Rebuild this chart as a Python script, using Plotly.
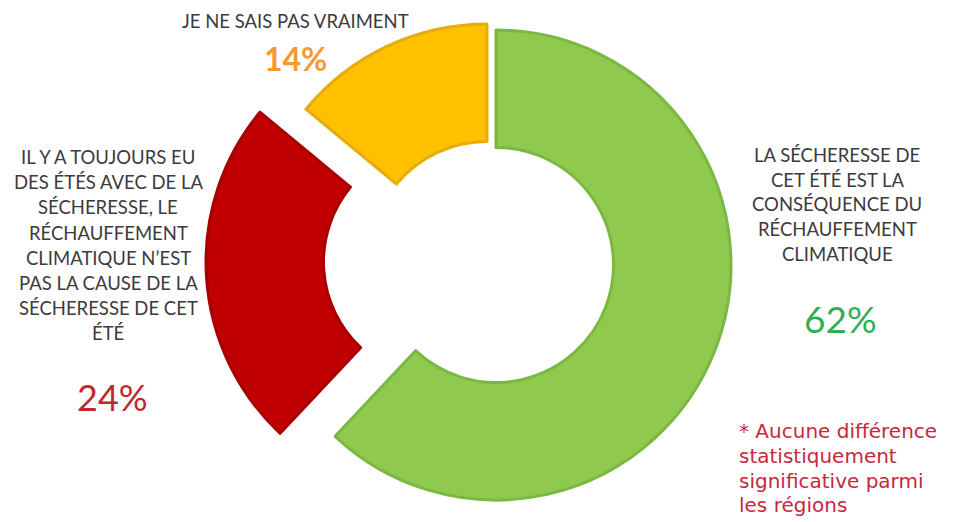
import plotly.graph_objects as go

# ---- data ----
categories = [
    "La sécheresse de cet été est la conséquence du réchauffement climatique",
    "Il y a toujours eu des étés avec de la sécheresse, le réchauffement climatique n'est pas la cause de la sécheresse de cet été",
    "Je ne sais pas vraiment",
]
values = [62, 24, 14]
value_labels = ["62%", "24%", "14%"]

label_green_lines = ["LA SÉCHERESSE DE", "CET ÉTÉ EST LA", "CONSÉQUENCE DU", "RÉCHAUFFEMENT", "CLIMATIQUE"]
label_red_lines = ["IL Y A TOUJOURS EU", "DES ÉTÉS AVEC DE LA", "SÉCHERESSE, LE", "RÉCHAUFFEMENT",
                   "CLIMATIQUE N’EST", "PAS LA CAUSE DE LA", "SÉCHERESSE DE CET", "ÉTÉ"]
label_yellow_lines = ["JE NE SAIS PAS VRAIMENT"]
note_lines = ["* Aucune différence", "statistiquement", "significative parmi", "les régions"]

# ---- styles ----
W, H = 960, 522
fill_colors = ["#8FCA4F", "#C00000", "#FFC000"]
line_colors = ["#7AB843", "#A80000", "#E5AC0A"]
pct_colors = ["#2EAF55", "#C4262E", "#F79A33"]
TRANSPARENT = "rgba(0,0,0,0)"
R = 235
centers = [(496, 265), (441, 262), (487, 259)]  # pixel centres of each (exploded) slice

fig = go.Figure()
for i in range(len(values)):
    cx, cy = centers[i]
    cols = [fill_colors[j] if j == i else TRANSPARENT for j in range(len(values))]
    lcols = [line_colors[j] if j == i else TRANSPARENT for j in range(len(values))]
    lw = [3 if j == i else 0 for j in range(len(values))]
    fig.add_trace(go.Pie(
        labels=categories,
        values=values,
        sort=False,
        direction="clockwise",
        rotation=0,
        hole=0.5,
        textinfo="none",
        hoverinfo="skip",
        showlegend=False,
        marker=dict(colors=cols, line=dict(color=lcols, width=lw)),
        domain=dict(x=[(cx - R) / W, (cx + R) / W],
                    y=[(H - cy - R) / H, (H - cy + R) / H]),
    ))

annotations = []
FONT = "Lato, 'Open Sans', sans-serif"
NOTE_FONT = "'DejaVu Sans', Lato, sans-serif"
TXT = "#3B3B3B"


def add_lines(lines, x, y0, step, size, color, anchor="center", family=FONT):
    for k, t in enumerate(lines):
        annotations.append(dict(
            text=t, x=x / W, y=1 - (y0 + k * step) / H, xref="paper", yref="paper",
            xanchor=anchor, yanchor="middle", showarrow=False, borderpad=0,
            font=dict(family=family, size=size, color=color)))


add_lines(label_yellow_lines, 295, 21, 25, 18.5, TXT)
add_lines(label_red_lines, 108, 157, 25.2, 18.5, TXT)
add_lines(label_green_lines, 837, 155, 24.7, 18.5, TXT)
add_lines(note_lines, 738, 431, 24.8, 20, "#C8283C", anchor="left", family=NOTE_FONT)

annotations.append(dict(text="<b>" + value_labels[2] + "</b>", x=295 / W, y=1 - 59 / H,
                        xref="paper", yref="paper", showarrow=False, xanchor="center", yanchor="middle",
                        font=dict(family=FONT, size=32, color=pct_colors[2])))
annotations.append(dict(text=value_labels[1], x=112 / W, y=1 - 397 / H,
                        xref="paper", yref="paper", showarrow=False, xanchor="center", yanchor="middle",
                        font=dict(family=FONT, size=36, color=pct_colors[1])))
annotations.append(dict(text=value_labels[0], x=840 / W, y=1 - 318 / H,
                        xref="paper", yref="paper", showarrow=False, xanchor="center", yanchor="middle",
                        font=dict(family=FONT, size=37, color=pct_colors[0])))

fig.update_layout(
    width=W, height=H,
    margin=dict(l=0, r=0, t=0, b=0),
    paper_bgcolor="white", plot_bgcolor="white",
    annotations=annotations,
)

fig.write_html("out.html", config={"displayModeBar": False},
               post_script="document.body.style.margin='0';")
